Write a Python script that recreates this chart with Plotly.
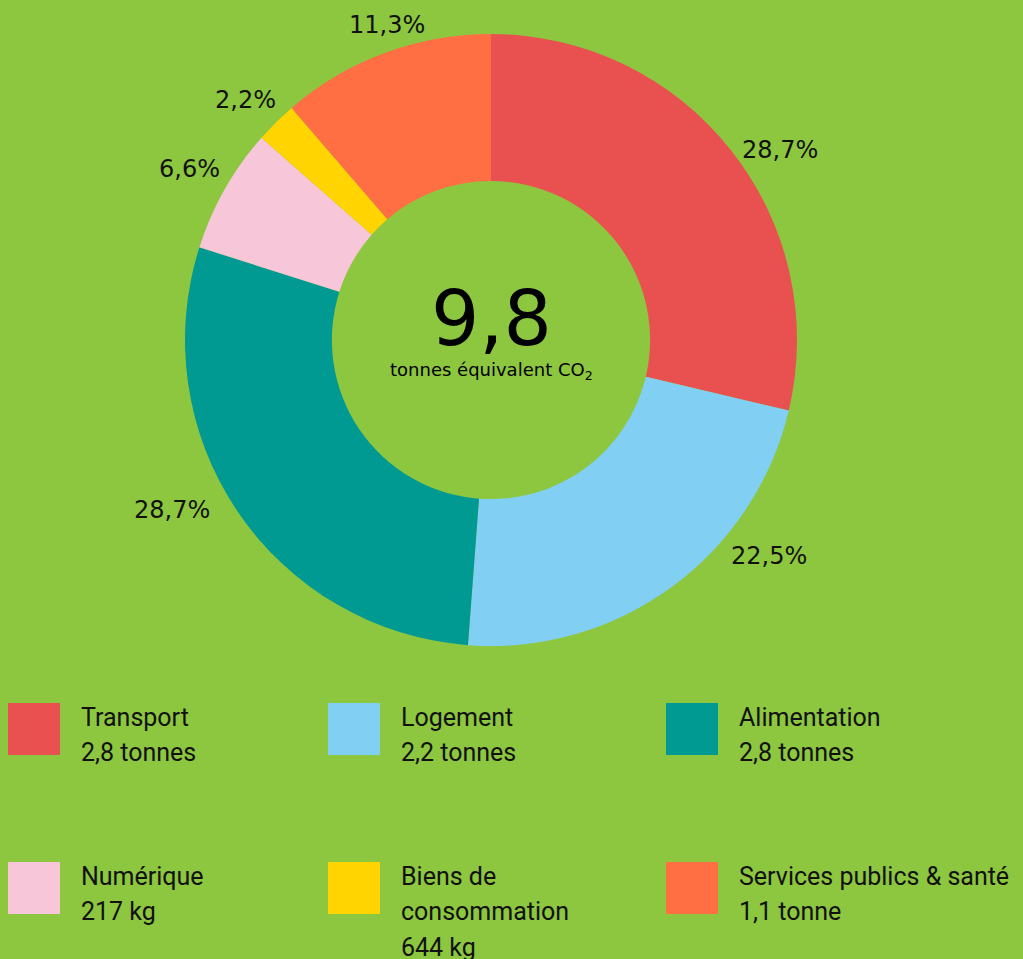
import math
import plotly.graph_objects as go

categories = ["Transport", "Logement", "Alimentation", "Numérique", "Biens de consommation", "Services publics & santé"]
shares = [28.7, 22.5, 28.7, 6.6, 2.2, 11.3]
legend_lines = [
    ["Transport", "2,8 tonnes"],
    ["Logement", "2,2 tonnes"],
    ["Alimentation", "2,8 tonnes"],
    ["Numérique", "217 kg"],
    ["Biens de", "consommation", "644 kg"],
    ["Services publics & santé", "1,1 tonne"],
]
colors = ["#E95151", "#82CFF4", "#009A93", "#F7C6D9", "#FFD400", "#FF6F43"]
total_label = "9,8"
total_unit = "tonnes équivalent CO<sub>2</sub>"

W, H = 1023, 959
BG = "#8DC63F"
FONT_LEG = "Roboto, sans-serif"
FONT_NUM = "DejaVu Sans, sans-serif"

pct_text = [f"{v:.1f}".replace(".", ",") + "%" for v in shares]

cx, cy, R = 491, 340, 306
fig = go.Figure()
fig.add_trace(go.Pie(
    labels=categories, values=shares, textinfo="none",
    sort=False, direction="clockwise", rotation=0,
    hole=0.52, marker=dict(colors=colors, line=dict(width=0)),
    domain=dict(x=[(cx - R) / W, (cx + R) / W], y=[1 - (cy + R) / H, 1 - (cy - R) / H]),
    showlegend=False, hoverinfo="label+value",
))

annotations = [
    dict(text=total_label, x=cx / W, y=1 - 318 / H, xref="paper", yref="paper",
         xanchor="center", yanchor="middle",
         showarrow=False, font=dict(family=FONT_NUM, size=76, color="#000")),
    dict(text=total_unit, x=cx / W, y=1 - 371 / H, xref="paper", yref="paper",
         xanchor="center", yanchor="middle",
         showarrow=False, font=dict(family=FONT_NUM, size=18, color="#000")),
]

# percentage labels placed outside the ring near each slice's mid angle
label_r = [346, 352, 361, 347, 343, 332]
label_nudge_deg = [5, -16, 6, 0, -1, 2]
total = sum(shares)
cum = 0.0
for v, txt, nd, lr in zip(shares, pct_text, label_nudge_deg, label_r):
    mid = (cum + v / 2) / total * 360 + nd
    cum += v
    a = math.radians(mid)
    px = cx + lr * math.sin(a)
    py = cy - lr * math.cos(a)
    annotations.append(dict(text=txt, x=px / W, y=1 - py / H, xref="paper", yref="paper",
                            xanchor="center", yanchor="middle", showarrow=False,
                            font=dict(family=FONT_NUM, size=24, color="#111")))

shapes = []
col_x = [8, 328, 666]
row_y = [703, 862]
line_gap = 35.5
for i, (lines, col) in enumerate(zip(legend_lines, colors)):
    x0 = col_x[i % 3]
    y0 = row_y[i // 3]
    shapes.append(dict(type="rect", xref="paper", yref="paper", line=dict(width=0), fillcolor=col,
                       x0=x0 / W, x1=(x0 + 52) / W, y0=1 - (y0 + 52) / H, y1=1 - y0 / H))
    for j, ln in enumerate(lines):
        yc = y0 + 14 + j * line_gap
        annotations.append(dict(text=ln, x=(x0 + 71) / W, y=1 - yc / H,
                                xref="paper", yref="paper", xanchor="left", yanchor="middle",
                                showarrow=False, font=dict(family=FONT_LEG, size=25, color="#111")))

fig.update_layout(width=W, height=H, margin=dict(l=0, r=0, t=0, b=0),
                  paper_bgcolor=BG, plot_bgcolor=BG, annotations=annotations, shapes=shapes)
fig.write_html("out.html", config={"displayModeBar": False},
               post_script="document.body.style.margin='0';")
